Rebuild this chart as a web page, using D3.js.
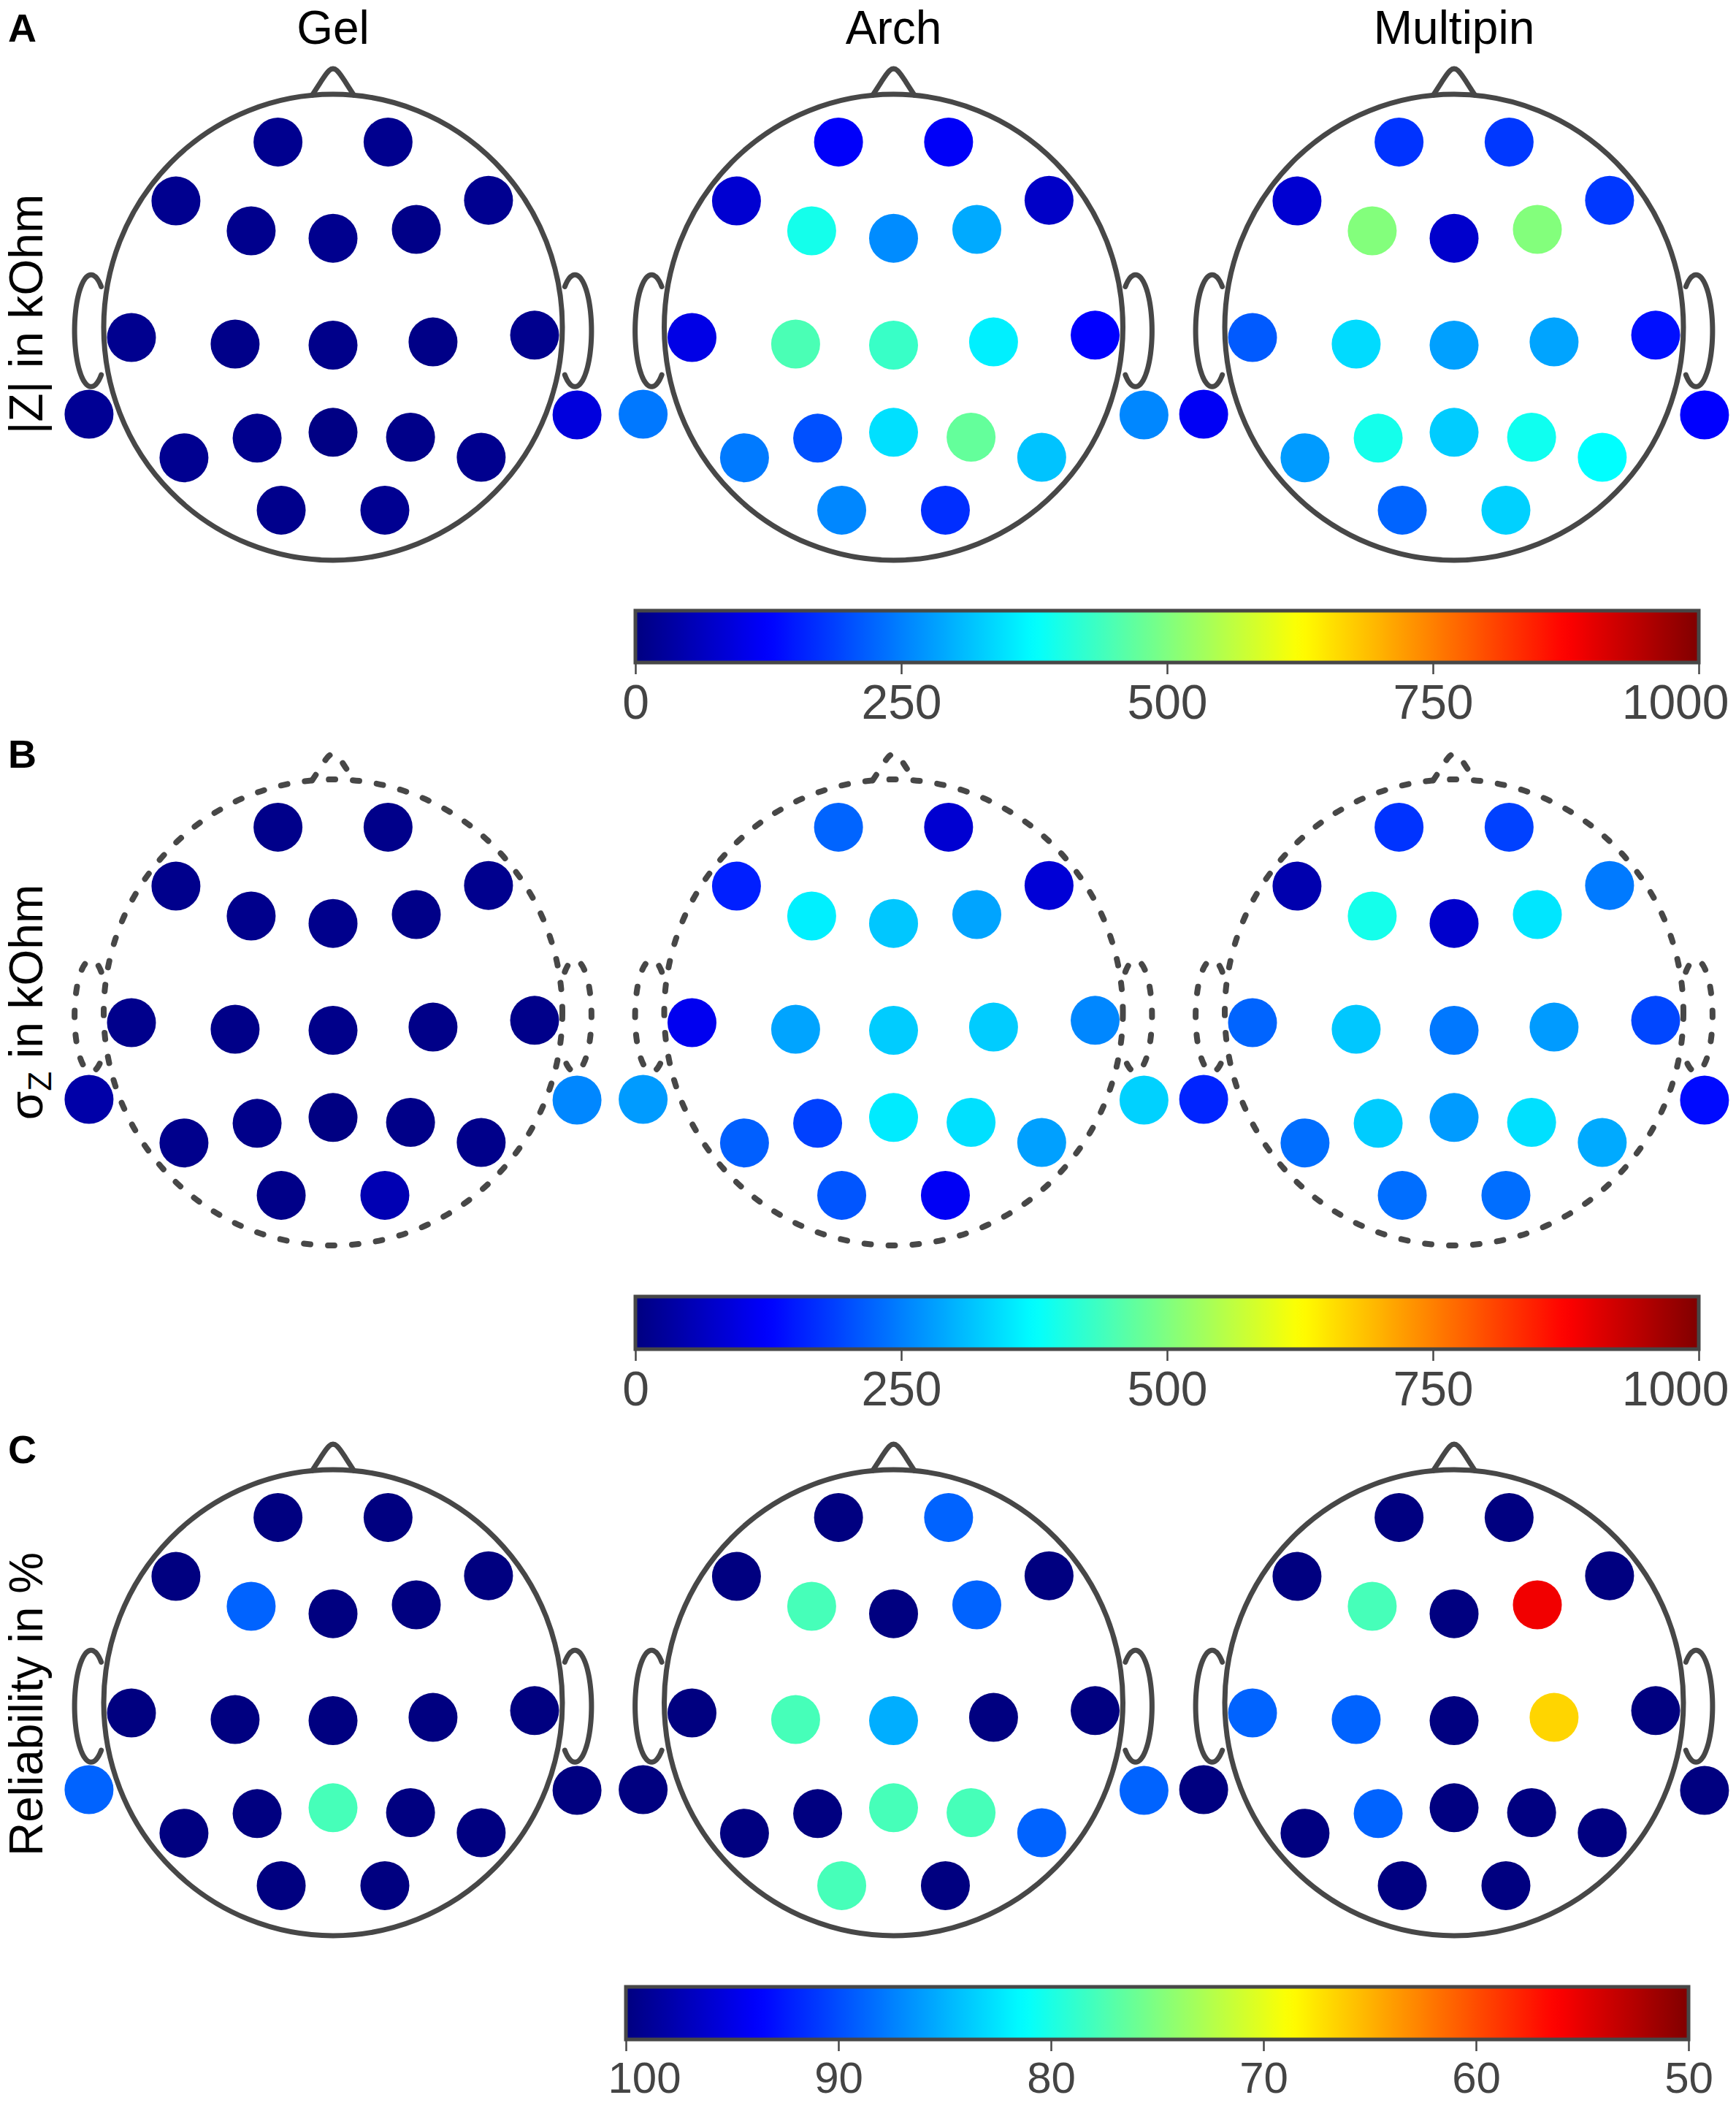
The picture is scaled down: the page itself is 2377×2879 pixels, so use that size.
<!DOCTYPE html>
<html><head><meta charset="utf-8">
<script src="https://cdn.jsdelivr.net/npm/d3@7"></script>
<style>body{margin:0;background:#fff}svg{display:block}</style>
</head><body><svg id="chart"></svg>
<script>
const W = 2377, H = 2879;
const systems = ["Gel", "Arch", "Multipin"];
const panelLetters = ["A", "B", "C"];
const channels = ["Fp1","Fp2","F7","F3","Fz","F4","F8","T7","C3","Cz","C4","T8","A1","A2","P7","P3","Pz","P4","P8","O1","O2"];
// electrode layout (head radius = 100, nose up)
const chanX = [-24.0,24.0,-68.5,-35.7,0,36.3,67.8,-87.9,-42.7,0,43.6,87.9,-109.2,109.2,-65.0,-33.1,0,33.8,64.6,-22.6,22.6];
const chanY = [79.5,79.5,54.2,41.4,38.2,42.0,54.5,-4.4,-7.2,-7.7,-6.3,-3.4,-37.3,-37.6,-56.0,-47.6,-45.1,-47.2,-55.8,-78.5,-78.5];
const mastoidX = [106.4, 109.2, 109.2]; // per system (Gel, Arch, Multipin)

// A: |Z| in kOhm
const impGel  = [15,14,15,13,14,8,16,15,9,10,7,14,20,92,16,13,4,9,14,12,17];
const impArch = [120,118,80,395,262,292,70,100,448,430,360,125,243,257,245,203,345,473,316,257,170];
const impMulti= [175,180,80,503,75,503,180,213,340,282,286,140,115,125,277,395,325,390,375,223,330];
// B: sigma_Z in kOhm
const sdGel   = [10,10,12,12,12,8,14,12,8,10,8,10,40,257,12,10,2,8,10,8,50];
const sdArch  = [223,80,155,360,320,286,85,110,286,325,325,257,277,330,218,189,355,345,282,208,115];
const sdMulti = [175,189,46,395,75,350,245,223,320,243,277,194,160,135,233,325,277,345,292,233,233];
// C: Reliability in %
const relGel  = [100,100,100,88.9,100,100,100,100,100,100,100,100,88.9,100,100,100,77.8,100,100,100,100];
const relArch = [100,88.9,100,77.8,100,88.9,100,100,77.8,85.2,100,100,100,88.9,100,100,77.8,77.8,88.9,77.8,100];
const relMulti= [100,100,100,77.8,100,55.6,100,88.9,88.9,100,66.7,100,100,100,100,88.9,100,100,100,100,100];

const impTicks = [0,250,500,750,1000];
const relTicks = [100,90,80,70,60,50];
const yLabels = ["|Z| in kOhm", "σZ in kOhm", "Reliability in %"];

// head outline shapes (units of head radius = 100)
const nosePts = [[-9.1,99.6],[-5.5,105],[-1.6,111.2],[1.6,111.2],[5.5,105],[9.1,99.6]];
const earArc = {cx:-105.5, cy:-1.5, rx:7.2, ry:24, a0:52, a1:308};
const earPts = d3.range(earArc.a0, earArc.a1 + 0.1, 4).map(a => {
  const r = a * Math.PI / 180;
  return [earArc.cx + earArc.rx * Math.cos(r), earArc.cy + earArc.ry * Math.sin(r)];
});

function jet(t){
  t = Math.max(0, Math.min(1, t));
  const c = v => Math.round(255*Math.max(0, Math.min(1, v)));
  return d3.rgb(c(1.5-Math.abs(4*t-3)), c(1.5-Math.abs(4*t-2)), c(1.5-Math.abs(4*t-1))).formatHex();
}

const rowsCfg = [
  {data:[impGel,impArch,impMulti], domain:[0,1000], ticks:impTicks, dashed:false,
   cy:448, bar:{x0:870,x1:2326,y0:836,y1:907}, labelY:430, letterY:57, tickFont:66},
  {data:[sdGel,sdArch,sdMulti], domain:[0,1000], ticks:impTicks, dashed:true,
   cy:1386, bar:{x0:870,x1:2326,y0:1775,y1:1847}, labelY:1372, letterY:1051, tickFont:66},
  {data:[relGel,relArch,relMulti], domain:[100,50], ticks:relTicks, dashed:false,
   cy:2331, bar:{x0:857,x1:2312,y0:2720,y1:2792}, labelY:2333, letterY:2003, tickFont:60}
];

const svg = d3.select("#chart").attr("width", W).attr("height", H)
  .style("font-family", "'Liberation Sans', Arial, sans-serif");
svg.append("rect").attr("width", W).attr("height", H).attr("fill", "#fff");
const defs = svg.append("defs");
const headCx = d3.scalePoint().domain(systems).range([456, 1991]);
const HR_X = 314, HR_Y = 319, ELEC_R = 33.5;
const OUT = "#474747";

// column titles
svg.selectAll("text.title").data(systems).join("text").attr("class","title")
  .attr("x", d => headCx(d)).attr("y", 60).attr("text-anchor","middle")
  .attr("font-size", 64).attr("fill","#000").text(d => d);

rowsCfg.forEach((row, ri) => {
  const color = d3.scaleSequential(jet).domain(row.domain);
  const g = svg.append("g");
  // panel letter
  g.append("text").attr("x", 11).attr("y", row.letterY).attr("font-size", 54)
    .attr("font-weight","bold").attr("fill","#000").text(panelLetters[ri]);
  // y label
  const yl = g.append("text").attr("transform", `translate(58,${row.labelY}) rotate(-90)`)
    .attr("text-anchor","middle").attr("font-size", 64).attr("fill","#000");
  if (ri === 1) {
    yl.append("tspan").text("σ");
    yl.append("tspan").attr("font-size", 44).attr("dy", 12).text("Z");
    yl.append("tspan").attr("dy", -12).text(" in kOhm");
  } else yl.text(yLabels[ri]);

  systems.forEach((sys, si) => {
    const cx = headCx(sys), cy = row.cy;
    const xS = d3.scaleLinear().domain([-100,100]).range([cx-HR_X, cx+HR_X]);
    const yS = d3.scaleLinear().domain([-100,100]).range([cy+HR_Y, cy-HR_Y]);
    const hg = g.append("g");
    const strokeStyle = sel => {
      sel.attr("fill","none").attr("stroke", OUT)
        .attr("stroke-width", row.dashed ? 8 : 7)
        .attr("stroke-linecap","round").attr("stroke-linejoin","round");
      if (row.dashed) sel.attr("stroke-dasharray","9 24");
      return sel;
    };
    hg.append("ellipse").attr("cx", xS(0)).attr("cy", yS(0))
      .attr("rx", xS(100)-xS(0)).attr("ry", yS(0)-yS(100)).call(strokeStyle);
    const noseLine = d3.line().x(d=>xS(d[0])).y(d=>yS(d[1])).curve(d3.curveBasis);
    hg.append("path").attr("d", noseLine(nosePts)).call(strokeStyle);
    const earLine = d3.line().x(d=>xS(d[0])).y(d=>yS(d[1])).curve(d3.curveCatmullRom);
    hg.append("path").attr("d", earLine(earPts)).call(strokeStyle);
    hg.append("path").attr("d", earLine(earPts.map(p=>[-p[0],p[1]]))).call(strokeStyle);
    // electrodes
    const vals = row.data[si];
    const pts = channels.map((ch,i) => ({ch, x: (ch==="A1"? -mastoidX[si] : ch==="A2"? mastoidX[si] : chanX[i]), y: chanY[i], v: vals[i]}));
    hg.selectAll("circle").data(pts).join("circle")
      .attr("cx", d => xS(d.x)).attr("cy", d => yS(d.y)).attr("r", ELEC_R)
      .attr("fill", d => color(d.v));
  });

  // colorbar
  const b = row.bar;
  const gid = "grad" + ri;
  const grad = defs.append("linearGradient").attr("id", gid).attr("x1","0%").attr("x2","100%");
  d3.range(0, 101).forEach(k => grad.append("stop").attr("offset", k+"%").attr("stop-color", jet(k/100)));
  g.append("rect").attr("x", b.x0).attr("y", b.y0).attr("width", b.x1-b.x0).attr("height", b.y1-b.y0)
    .attr("fill", `url(#${gid})`).attr("stroke", OUT).attr("stroke-width", 5);
  const xs = d3.scaleLinear().domain(row.domain).range([b.x0, b.x1]);
  const ax = g.append("g").attr("transform", `translate(0,${b.y1+2})`)
    .call(d3.axisBottom(xs).tickValues(row.ticks).tickFormat(d3.format("d")).tickSize(14).tickPadding(14));
  ax.select(".domain").remove();
  ax.selectAll(".tick line").attr("stroke", OUT).attr("stroke-width", 2.5);
  ax.selectAll(".tick text").attr("font-size", row.tickFont).attr("fill", "#444")
    .attr("font-family", "'Liberation Sans', Arial, sans-serif");
  ax.selectAll(".tick text").each(function(){
    const bb = this.getBBox();
    const parentX = xs(d3.select(this).datum());
    let shift = 0;
    if (parentX + bb.x + bb.width > W - 10) shift = (W - 10) - (parentX + bb.x + bb.width);
    if (parentX + bb.x < 832) shift = 832 - (parentX + bb.x);
    d3.select(this).attr("x", shift);
  });
});
</script></body></html>
